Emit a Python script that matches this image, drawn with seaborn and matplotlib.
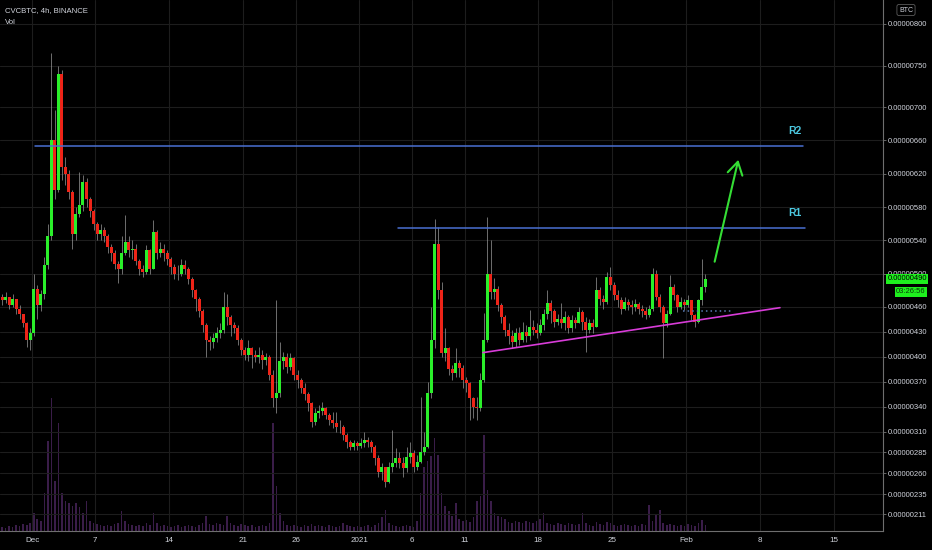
import numpy as np
import pandas as pd
import seaborn as sns
import matplotlib.pyplot as plt
import matplotlib.dates as mdates
import matplotlib.transforms as mtransforms

# CVCBTC prices in units of 1e-8 BTC (one candle per 8h)
first_open = 472
closes = [
    468, 472, 462, 470, 458, 452, 440, 420, 428, 482,
    462, 475, 510, 545, 660, 600, 740, 628, 620, 598,
    548, 572, 582, 610, 590, 575, 560, 548, 552, 545,
    532, 525, 512, 505, 525, 538, 528, 530, 515, 505,
    502, 528, 505, 550, 525, 530, 525, 518, 508, 500,
    500, 510, 506, 494, 480, 470, 455, 438, 420, 418,
    422, 428, 432, 460, 448, 438, 435, 420, 408, 402,
    410, 402, 400, 402, 396, 400, 378, 350, 356, 395,
    400, 388, 398, 378, 372, 362, 355, 345, 322, 332,
    335, 338, 330, 324, 320, 316, 315, 306, 298, 292,
    296, 293, 296, 300, 298, 292, 278, 262, 268, 250,
    268, 272, 278, 272, 266, 280, 284, 268, 274, 286,
    292, 356, 420, 535, 480, 405, 410, 385, 380, 392,
    386, 372, 368, 350, 340, 338, 372, 420, 500, 478,
    482, 462, 448, 432, 425, 418, 428, 420, 430, 425,
    436, 432, 428, 438, 452, 465, 455, 442, 446, 440,
    448, 434, 444, 440, 454, 442, 432, 440, 436, 480,
    470, 466, 496, 486, 474, 468, 458, 466, 462, 460,
    464, 458, 455, 450, 458, 500, 472, 460, 440, 452,
    484, 474, 460, 466, 462, 468, 450, 442, 468, 484,
    494,
]
highs = [
    475, 478, 470, 476, 468, 462, 452, 442, 434, 500,
    486, 480, 520, 560, 765, 697, 750, 745, 640, 624,
    600, 580, 622, 618, 615, 592, 578, 562, 560, 556,
    548, 536, 528, 515, 545, 570, 545, 540, 535, 518,
    510, 534, 530, 564, 552, 538, 535, 528, 520, 512,
    510, 518, 516, 508, 496, 482, 472, 458, 440, 425,
    428, 436, 440, 478, 475, 450, 442, 438, 422, 412,
    420, 412, 408, 412, 408, 405, 402, 384, 468, 418,
    406, 405, 405, 400, 384, 375, 368, 358, 346, 338,
    342, 346, 340, 332, 334, 334, 324, 318, 308, 300,
    300, 299, 302, 309, 304, 300, 294, 282, 272, 268,
    274, 312, 290, 285, 280, 292, 298, 288, 282, 352,
    310, 370, 460, 565, 556, 490, 435, 412, 390, 410,
    396, 390, 376, 370, 352, 352, 380, 453, 568, 540,
    495, 485, 465, 450, 440, 432, 434, 436, 442, 438,
    456, 444, 440, 446, 458, 480, 468, 458, 452, 465,
    455, 450, 450, 448, 460, 456, 448, 446, 446, 496,
    484, 474, 502, 508, 490, 480, 472, 472, 470, 468,
    470, 466, 462, 460, 462, 507, 504, 476, 462, 456,
    498, 488, 476, 472, 470, 474, 468, 452, 470, 517,
    500,
]
lows = [
    462, 465, 458, 460, 452, 446, 436, 412, 408, 425,
    445, 455, 470, 505, 540, 590, 598, 612, 606, 590,
    530, 540, 568, 575, 580, 568, 552, 540, 540, 538,
    525, 515, 505, 489, 500, 522, 520, 518, 510, 498,
    496, 500, 500, 505, 518, 520, 515, 510, 500, 494,
    492, 497, 500, 488, 472, 455, 448, 430, 400, 408,
    410, 418, 422, 428, 438, 425, 428, 414, 402, 396,
    395, 387, 394, 392, 385, 390, 372, 340, 332, 352,
    385, 380, 384, 372, 362, 356, 348, 335, 315, 318,
    326, 330, 325, 318, 314, 310, 308, 300, 290, 288,
    288, 288, 290, 292, 292, 286, 270, 255, 252, 243,
    248, 262, 268, 266, 256, 262, 272, 262, 264, 272,
    282, 290, 350, 410, 470, 400, 395, 378, 372, 376,
    376, 362, 358, 324, 326, 324, 335, 370, 418, 470,
    470, 455, 440, 425, 415, 410, 412, 414, 418, 418,
    420, 426, 422, 426, 432, 445, 440, 436, 438, 434,
    432, 428, 430, 434, 440, 432, 406, 428, 428, 436,
    462, 458, 464, 480, 468, 460, 452, 456, 456, 452,
    455, 452, 448, 446, 448, 455, 468, 454, 398, 436,
    450, 468, 454, 458, 456, 460, 444, 436, 440, 462,
    478,
]
volumes = [
    4, 3, 5, 4, 6, 5, 7, 6, 8, 18,
    12, 10, 38, 90, 133, 50, 108, 38, 30, 28,
    25, 28, 24, 18, 30, 10, 8, 7, 6, 5,
    6, 5, 7, 8, 20, 10, 7, 6, 5, 6,
    5, 8, 6, 18, 8, 5, 6, 5, 4, 5,
    6, 4, 5, 6, 5, 4, 6, 8, 15, 7,
    6, 8, 7, 6, 15, 8, 6, 5, 7, 6,
    5, 6, 4, 5, 6, 5, 8, 108, 45, 18,
    10, 6, 5, 6, 5, 4, 6, 5, 7, 5,
    6, 5, 4, 6, 5, 4, 5, 8, 6, 5,
    4, 5, 4, 5, 6, 4, 6, 8, 14, 21,
    8, 6, 5, 4, 5, 6, 5, 4, 10, 38,
    64, 70, 75, 93, 76, 38, 25, 20, 15, 28,
    12, 10, 11, 9, 14, 30, 35, 96, 41, 30,
    18, 15, 14, 12, 9, 8, 10, 9, 8, 10,
    9, 8, 10, 12, 18, 8, 7, 6, 8, 7,
    6, 8, 7, 6, 7, 18, 8, 6, 5, 9,
    7, 6, 9, 8, 6, 5, 6, 7, 6, 5,
    6, 5, 7, 6, 26, 10, 16, 21, 8, 6,
    7, 6, 5, 6, 5, 7, 6, 5, 8, 11,
    6,
]
first_candle = '2020-11-28 04:00'
candle_freq = '8h'

y_ticks = [800, 750, 700, 660, 620, 580, 540, 500, 460, 430, 400, 370,
           340, 310, 285, 260, 235, 211]
x_tick_dates = ['2020-12-01', '2020-12-07', '2020-12-14', '2020-12-21',
                '2020-12-26', '2021-01-01', '2021-01-06', '2021-01-11',
                '2021-01-18', '2021-01-25', '2021-02-01', '2021-02-08',
                '2021-02-15']
x_tick_labels = ['Dec', '7', '14', '21', '26', '2021', '6', '11', '18', '25',
                 'Feb', '8', '15']

# drawings on the chart
r2_level, r2_span = 653, ['2020-12-01 07:00', '2021-02-12 02:00']
r1_level, r1_span = 555, ['2021-01-04 17:00', '2021-02-12 06:30']
trend_pts = [('2021-01-12 18:00', 405), ('2021-02-09 21:30', 459)]
arrow_pts = [('2021-02-03 15:30', 511), ('2021-02-06 00:15', 640)]
dotted_level, dotted_span = 455, ['2021-01-31 17:00', '2021-02-05 11:00']
label_time = '2021-02-11 07:00'
last_price_text, last_price_level = '0.00000490', 494
timer_text = '03:26:56'

sns.set_theme(style='dark', rc={'axes.facecolor': '#000000',
                                'figure.facecolor': '#000000',
                                'savefig.facecolor': '#000000'})
plt.rcParams['font.family'] = ['Liberation Sans', 'DejaVu Sans']

num = lambda s: mdates.date2num(pd.Timestamp(s))
t = mdates.date2num(pd.date_range(first_candle, periods=len(closes), freq=candle_freq))
period = 1 / 3
o = np.array([first_open] + closes[:-1], dtype=float)
c = np.array(closes, dtype=float)
up = c >= o

fig = plt.figure(figsize=(9.32, 5.5), dpi=100)
ax = fig.add_axes([0, 19 / 550, 883 / 932, 531 / 550])
axv = ax.twinx()

# volume underneath
edges = list(np.append(t - period / 2, t[-1] + period / 2))
sns.histplot(x=list(t), weights=volumes, bins=edges, ax=axv, color='#4f2763',
             alpha=0.75, shrink=0.45, edgecolor='none', linewidth=0)
axv.set_ylim(0, 531)
axv.axis('off')
ax.set_zorder(axv.get_zorder() + 1)
ax.patch.set_visible(False)

# candles
ax.vlines(t, lows, highs, color='#a0a0a0', lw=0.6, alpha=0.8, zorder=3)
ax.bar(t, c - o, bottom=o, width=period * 0.85,
       color=np.where(up, '#2aef2a', '#ee2418'), linewidth=0, zorder=4)

# drawings
ax.plot([num(x) for x in r2_span], [r2_level] * 2, color='#4a70d2', lw=1.1, zorder=5)
ax.plot([num(x) for x in r1_span], [r1_level] * 2, color='#4a70d2', lw=1.1, zorder=5)
ax.plot([num(p[0]) for p in trend_pts], [p[1] for p in trend_pts],
        color='#d83cd8', lw=1.2, zorder=5)
ax.plot([num(x) for x in dotted_span], [dotted_level] * 2, color='#5a7bb5',
        lw=1.1, ls=(0, (1, 2)), zorder=5)
ax.annotate('', xy=(num(arrow_pts[1][0]), arrow_pts[1][1]),
            xytext=(num(arrow_pts[0][0]), arrow_pts[0][1]),
            arrowprops=dict(arrowstyle='->,head_length=0.75,head_width=0.45',
                            color='#35de35', lw=1.5), zorder=6)
ax.text(num(label_time), r2_level + 18, 'R2', color='#4cc8e0', fontsize=7.5,
        fontweight='bold', ha='center', va='center', zorder=6)
ax.text(num(label_time), r1_level + 18, 'R1', color='#4cc8e0', fontsize=7.5,
        fontweight='bold', ha='center', va='center', zorder=6)

# axes
ax.set_xlim(num('2020-12-01') - 32 / 10.55, num('2020-12-01') + 851 / 10.55)
ax.set_ylim(190.6, 828.8)
ax.set_xticks([num(d) for d in x_tick_dates])
ax.set_xticklabels(x_tick_labels)
ax.set_yticks(y_ticks)
ax.set_yticklabels([f'{v * 1e-8:.8f}' for v in y_ticks])
ax.yaxis.tick_right()
ax.tick_params(axis='x', length=0, pad=4, labelsize=5.8, labelcolor='#d1d4dc')
ax.tick_params(axis='y', right=True, left=False, length=2.5, width=0.6,
               color='#777777', pad=1.2, labelsize=5.5, labelcolor='#d1d4dc')
ax.grid(True, color='#1d1d1d', lw=0.8)
for side in ['top', 'left']:
    ax.spines[side].set_visible(False)
for side in ['right', 'bottom']:
    ax.spines[side].set_visible(True)
    ax.spines[side].set_color('#6e6e6e')
    ax.spines[side].set_linewidth(0.8)

# last price and countdown on the price scale
trans = mtransforms.blended_transform_factory(ax.transAxes, ax.transData)
ax.annotate(last_price_text, xy=(1.0, last_price_level), xycoords=trans,
            xytext=(3.2, 0), textcoords='offset points', ha='left', va='center',
            fontsize=5.5, color='#000000', annotation_clip=False,
            bbox=dict(boxstyle='square,pad=0.2', fc='#1ef01e', ec='none'))
ax.annotate(timer_text, xy=(1.0, last_price_level - 16), xycoords=trans,
            xytext=(9.5, 0), textcoords='offset points', ha='left', va='center',
            fontsize=5.5, color='#0a3a0a', annotation_clip=False,
            bbox=dict(boxstyle='square,pad=0.2', fc='#1ef01e', ec='none'))

fig.text(5 / 932, 1 - 11 / 550, 'CVCBTC, 4h, BINANCE', fontsize=5.6,
         color='#d1d4dc', va='center', ha='left')
fig.text(5 / 932, 1 - 22 / 550, 'Vol', fontsize=5.6, color='#d1d4dc',
         va='center', ha='left')
fig.text(906 / 932, 1 - 10 / 550, 'BTC', fontsize=5, color='#d1d4dc',
         ha='center', va='center',
         bbox=dict(boxstyle='round,pad=0.3', fc='#000000', ec='#5a5a5a', lw=0.6))

fig.savefig('out.png', dpi=100, facecolor='#000000')
